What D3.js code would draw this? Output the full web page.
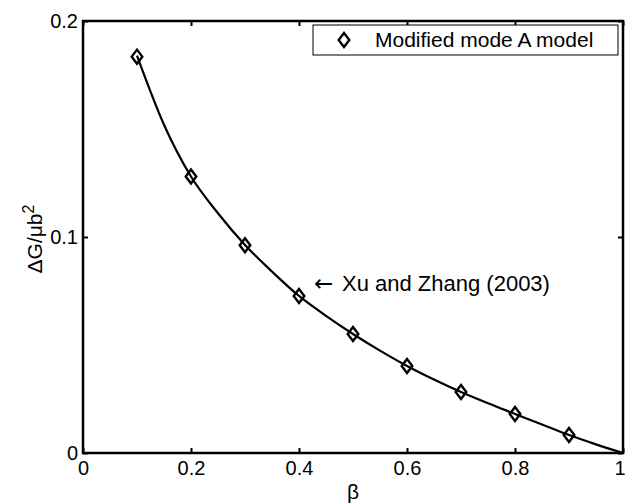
<!doctype html>
<html lang="en">
<head>
  <meta charset="utf-8">
  <title>Delta G vs beta</title>
  <script type="text/javascript" src="https://cdnjs.cloudflare.com/ajax/libs/d3/7.8.5/d3.min.js"></script>
  <style>
    body { margin: 0; background: #fff; }
    text { font-family: "Liberation Sans", Arial, sans-serif; fill: #000; }
  </style>
</head>
<body>
  <svg width="627" height="504" id="svg"></svg>
<script type="text/javascript">

  // Xu and Zhang (2003) curve
  var curve_beta = [0.1, 0.15, 0.2, 0.25, 0.3, 0.35, 0.4, 0.45, 0.5, 0.55, 0.6, 0.65, 0.7, 0.75, 0.8, 0.85, 0.9, 0.95, 1.0];
  var curve_dg = [0.184, 0.152, 0.128, 0.111, 0.0963, 0.084, 0.0727, 0.0635, 0.0551, 0.0474, 0.0403, 0.034, 0.0282, 0.023, 0.0181, 0.0132, 0.0083, 0.004, 0];

  // Modified mode A model markers
  var model_beta = [0.1, 0.2, 0.3, 0.4, 0.5, 0.6, 0.7, 0.8, 0.9];
  var model_dg = [0.1835, 0.128, 0.0962, 0.0727, 0.0551, 0.0403, 0.0282, 0.0181, 0.0083];

  var x_ticks = [0, 0.2, 0.4, 0.6, 0.8, 1];
  var y_ticks = [0, 0.1, 0.2];

  var m_left = 83, m_right = 623, m_top = 21, m_bottom = 453;

  var x = d3.scaleLinear().domain([0, 1]).range([m_left, m_right]);
  var y = d3.scaleLinear().domain([0, 0.2]).range([m_bottom, m_top]);

  var svg = d3.select('#svg');
  svg.append('rect').attr('width', 627).attr('height', 504).attr('fill', '#fff');

  var fmt = function(d) { return d === 0 ? '0' : (d === 1 ? '1' : String(d)); };

  // axes: ticks pointing inward on all four sides
  var ax_b = svg.append('g').attr('transform', 'translate(0,' + m_bottom + ')')
    .call(d3.axisBottom(x).tickValues(x_ticks).tickSize(-5).tickPadding(8).tickFormat(fmt));
  var ax_t = svg.append('g').attr('transform', 'translate(0,' + m_top + ')')
    .call(d3.axisTop(x).tickValues(x_ticks).tickSize(-5).tickFormat(''));
  var ax_l = svg.append('g').attr('transform', 'translate(' + m_left + ',0)')
    .call(d3.axisLeft(y).tickValues(y_ticks).tickSize(-5).tickPadding(5).tickFormat(fmt));
  var ax_r = svg.append('g').attr('transform', 'translate(' + m_right + ',0)')
    .call(d3.axisRight(y).tickValues(y_ticks).tickSize(-5).tickFormat(''));

  [ax_b, ax_t, ax_l, ax_r].forEach(function(a) {
    a.select('.domain').remove();
    a.selectAll('line').attr('stroke', '#000').attr('stroke-width', 2);
    a.selectAll('text').style('font-size', '20px').style('font-family', '"Liberation Sans", Arial, sans-serif').attr('fill', '#000');
  });
  ax_b.selectAll('text').filter(function(d) { return d === 1; }).attr('text-anchor', 'end').attr('dx', '0.1em');

  svg.append('rect')
    .attr('x', m_left).attr('y', m_top)
    .attr('width', m_right - m_left).attr('height', m_bottom - m_top)
    .attr('fill', 'none').attr('stroke', '#000').attr('stroke-width', 2.5);

  // curve
  var curve_data = curve_beta.map(function(b, i) { return { b: b, v: curve_dg[i] }; });
  var line = d3.line()
    .x(function(d) { return x(d.b); })
    .y(function(d) { return y(d.v); })
    .curve(d3.curveMonotoneX);

  svg.append('path')
    .datum(curve_data)
    .attr('d', line)
    .attr('fill', 'none')
    .attr('stroke', '#000')
    .attr('stroke-width', 2.2);

  // diamond markers
  var diamond = 'M0,-7L5.3,0L0,7L-5.3,0Z';
  svg.append('g')
    .selectAll('path')
    .data(model_beta)
    .enter()
    .append('path')
    .attr('d', diamond)
    .attr('transform', function(d, i) { return 'translate(' + x(d) + ',' + y(model_dg[i]) + ')'; })
    .attr('fill', 'none')
    .attr('stroke', '#000')
    .attr('stroke-width', 2.4);

  // legend
  svg.append('rect')
    .attr('x', 313).attr('y', 25).attr('width', 305).attr('height', 30)
    .attr('fill', '#fff').attr('stroke', '#000').attr('stroke-width', 1);
  svg.append('path')
    .attr('d', diamond)
    .attr('transform', 'translate(344,40)')
    .attr('fill', 'none').attr('stroke', '#000').attr('stroke-width', 2.4);
  svg.append('text')
    .attr('x', 375).attr('y', 47)
    .style('font-size', '21px')
    .text('Modified mode A model');

  // annotation
  var ann = svg.append('text')
    .attr('x', 314).attr('y', 291)
    .style('font-size', '22px');
  ann.append('tspan').style('font-family', '"DejaVu Sans", sans-serif').style('font-size', '23px').text('\u2190');
  ann.append('tspan').attr('x', 342).text('Xu and Zhang (2003)');

  // axis labels
  svg.append('text')
    .attr('x', 353).attr('y', 499)
    .attr('text-anchor', 'middle')
    .style('font-size', '21px')
    .text('\u03b2');

  var ylab = svg.append('text')
    .attr('transform', 'translate(42,239) rotate(-90)')
    .attr('text-anchor', 'middle')
    .style('font-size', '21px');
  ylab.append('tspan').text('\u0394G/\u03bcb');
  ylab.append('tspan').attr('dy', '-0.5em').style('font-size', '16px').text('2');

</script>
</body>
</html>
